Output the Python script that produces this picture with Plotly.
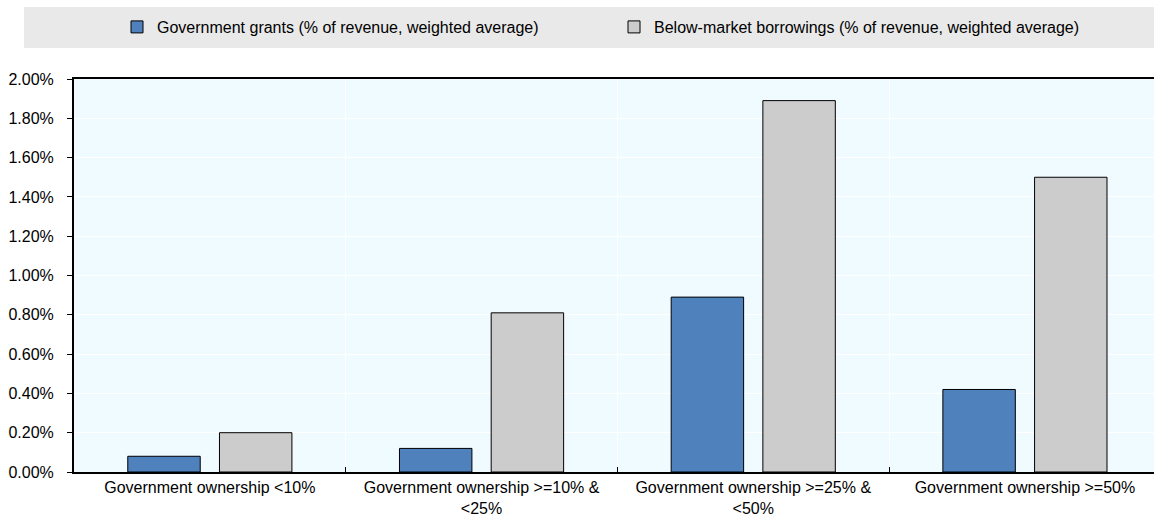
import plotly.graph_objects as go

categories = [
    "Government ownership <10%",
    "Government ownership >=10% &<br><25%",
    "Government ownership >=25% &<br><50%",
    "Government ownership >=50%",
]
grants = [0.0008, 0.0012, 0.0089, 0.0042]
borrowings = [0.0020, 0.0081, 0.0189, 0.0150]
y_ticks = [i * 0.002 for i in range(11)]

FONT = "Liberation Sans, Arial, sans-serif"
FS = 16
W, H = 1154, 523
ML, MR, MT, MB = 74, 0, 79, 51
PW, PH = W - ML - MR, H - MT - MB

fig = go.Figure()
fig.add_trace(go.Bar(
    x=categories, y=grants, name="Government grants (% of revenue, weighted average)",
    marker=dict(color="#4F81BD", line=dict(color="#000000", width=1)),
))
fig.add_trace(go.Bar(
    x=categories, y=borrowings, name="Below-market borrowings (% of revenue, weighted average)",
    marker=dict(color="#CCCCCC", line=dict(color="#000000", width=1)),
))

# grey band behind the legend
fig.add_shape(
    type="rect", xref="paper", yref="paper",
    x0=(24 - ML) / PW, x1=1.0, y0=1 + (MT - 48) / PH, y1=1 + (MT - 7) / PH,
    fillcolor="#E9E9E9", line=dict(width=0), layer="below",
)

fig.update_layout(
    width=W, height=H,
    margin=dict(l=ML, r=MR, t=MT, b=MB, autoexpand=False),
    paper_bgcolor="white", plot_bgcolor="#F0FBFF",
    font=dict(family=FONT, size=FS, color="#000000"),
    barmode="group", bargap=0.325, bargroupgap=0.21,
    showlegend=True,
    legend=dict(
        orientation="h", x=(117 - ML) / PW, xanchor="left", y=1 + 52 / PH, yanchor="middle",
        bgcolor="rgba(0,0,0,0)", font=dict(size=FS), entrywidth=452,
        itemwidth=30,
    ),
    xaxis=dict(
        range=[-0.5, 3.475], tickson="boundaries", ticks="inside", ticklen=5,
        tickcolor="#000000", showline=True, linecolor="#000000", linewidth=2,
        mirror=True, showgrid=True, gridcolor="white", gridwidth=1,
        tickangle=0, tickfont=dict(size=FS),
    ),
    yaxis=dict(
        range=[0, 0.02], tickvals=y_ticks, tickformat=".2%", ticks="outside",
        ticklen=5, tickcolor="#000000", showline=True, linecolor="#000000",
        linewidth=2, showgrid=True, gridcolor="white", gridwidth=1,
        zeroline=False, ticklabelstandoff=10, tickfont=dict(size=FS),
    ),
)

fig.write_html("out.html")
